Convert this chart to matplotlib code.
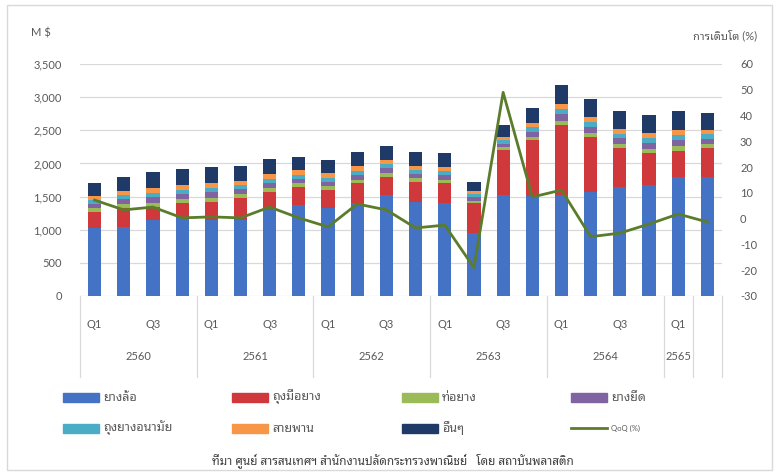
import matplotlib
matplotlib.use('Agg')
import matplotlib.pyplot as plt
from matplotlib import font_manager
from matplotlib.ft2font import FT2Font
from matplotlib.patches import Rectangle
from matplotlib.lines import Line2D
from matplotlib.ticker import FuncFormatter, MultipleLocator
import numpy as np

# ---------------- data ----------------
quarters = ['Q1', 'Q2', 'Q3', 'Q4'] * 5 + ['Q1', 'Q2']
year_labels = ['2560', '2561', '2562', '2563', '2564', '2565', '']
year_sizes = [4, 4, 4, 4, 4, 1, 1]

tires = [1025, 1040, 1150, 1180, 1150, 1150, 1300, 1370, 1330, 1400, 1520, 1420,
         1400, 950, 1520, 1510, 1520, 1570, 1640, 1680, 1790, 1790]
gloves = [245, 290, 195, 220, 270, 330, 270, 275, 270, 300, 280, 300,
          300, 450, 680, 840, 1060, 830, 590, 480, 405, 440]
hoses = [55, 55, 60, 60, 60, 55, 60, 55, 55, 55, 55, 55,
         55, 40, 45, 55, 65, 65, 60, 60, 65, 60]
elastic = [70, 75, 85, 80, 85, 75, 75, 70, 70, 75, 70, 70,
           70, 50, 55, 75, 95, 90, 90, 90, 95, 80]
condoms = [55, 60, 65, 65, 65, 60, 65, 60, 60, 60, 60, 60,
           60, 45, 50, 65, 75, 70, 70, 75, 75, 70]
belts = [60, 65, 75, 70, 75, 65, 70, 65, 65, 65, 65, 60,
         65, 45, 50, 65, 80, 75, 75, 75, 80, 70]
others = [200, 215, 240, 240, 240, 225, 225, 205, 200, 215, 210, 205,
          210, 140, 180, 230, 285, 270, 265, 270, 275, 250]
qoq = [7.2, 3.4, 4.5, 0.3, 0.7, 0.3, 4.5, 0.3, -3.2, 5.7, 3.4, -3.6,
       -2.5, -19.0, 49.0, 8.4, 11.1, -7.0, -5.6, -2.1, 1.8, -1.3]

series_names = ['ยางล้อ', 'ถุงมือยาง', 'ท่อยาง', 'ยางยืด', 'ถุงยางอนามัย', 'สายพาน', 'อื่นๆ']
line_name = 'QoQ (%)'
left_title = 'M $'
right_title = 'การเติบโต (%)'
source_text = 'ที่มา ศูนย์ สารสนเทศฯ สำนักงานปลัดกระทรวงพาณิชย์   โดย สถาบันพลาสติก'

colors = ['#4472C4', '#D0393B', '#9BBB59', '#8064A2', '#4BACC6', '#F79646', '#1F3A66']
line_color = '#5B7D2B'

# ---------------- fonts ----------------
found = []
for f in font_manager.fontManager.ttflist:
    try:
        cm = FT2Font(f.fname).get_charmap()
        if 0x0E01 in cm and 0x0E22 in cm:
            found.append(f.name)
    except Exception:
        pass
found = sorted(set(found))
thai_fam = None
for pref in ['Noto Sans Thai Looped', 'Noto Sans Thai', 'IBM Plex Sans Thai Looped',
             'Sarabun', 'Anuphan']:
    if pref in found:
        thai_fam = pref
        break
if thai_fam is None and found:
    thai_fam = found[0]
plt.rcParams['font.family'] = ['Lato'] + ([thai_fam] if thai_fam else []) + ['DejaVu Sans']
plt.rcParams['axes.unicode_minus'] = False

gray = '#595959'

# ---------------- figure ----------------
W, H = 782, 476
fig = plt.figure(figsize=(W / 100, H / 100), dpi=100)

def fx(px):
    return px / W

def fy(py):
    return 1 - py / H

ax_l, ax_r, ax_t, ax_b = 80, 722, 64, 296
ax = fig.add_axes([fx(ax_l), fy(ax_b), (ax_r - ax_l) / W, (ax_b - ax_t) / H])

x = np.arange(len(quarters))
stack = [tires, gloves, hoses, elastic, condoms, belts, others]
bottom = np.zeros(len(x))
for vals, c, n in zip(stack, colors, series_names):
    ax.bar(x, vals, width=0.45, bottom=bottom, color=c, label=n, zorder=2)
    bottom += np.array(vals)

ax.set_xlim(-0.5, len(x) - 0.5)
ax.set_ylim(0, 3500)
ax.yaxis.set_major_locator(MultipleLocator(500))
ax.yaxis.set_major_formatter(FuncFormatter(lambda v, p: f'{int(v):,}'))
ax.grid(axis='y', color='#D9D9D9', lw=0.9, zorder=0)
ax.set_axisbelow(True)
for s in ax.spines.values():
    s.set_visible(False)
ax.tick_params(axis='y', length=0, pad=13, labelsize=8, labelcolor=gray)
ax.set_xticks([])

ax2 = ax.twinx()
ax2.plot(x, qoq, color=line_color, lw=2, zorder=3)
ax2.set_ylim(-30, 60)
ax2.yaxis.set_major_locator(MultipleLocator(10))
for s in ax2.spines.values():
    s.set_visible(False)
ax2.tick_params(axis='y', length=0, pad=13, labelsize=8, labelcolor=gray)
ax2.set_xticks([])

# category axis (two levels)
trans = ax.get_xaxis_transform()
for i, q in enumerate(quarters):
    if i % 2 == 0:
        ax.text(i, -0.125, q, transform=trans, ha='center', va='center',
                fontsize=8, color=gray, clip_on=False)
edges = [-0.5]
for s in year_sizes:
    edges.append(edges[-1] + s)
for e in edges:
    ax.add_line(Line2D([e, e], [0, -0.35], transform=trans, color='#D9D9D9',
                       lw=0.9, clip_on=False))
for lab, a, b in zip(year_labels, edges[:-1], edges[1:]):
    ax.text((a + b) / 2, -0.262, lab, transform=trans, ha='center', va='center',
            fontsize=8, color=gray, clip_on=False)

# titles
fig.text(fx(31), fy(33), left_title, fontsize=8, color=gray, ha='left', va='center')
fig.text(fx(757), fy(35), right_title, fontsize=8, color=gray, ha='right', va='center')

# legend (manual layout)
col_x = [63, 232, 402, 571]
row_y = [397, 428]
for k, (n, c) in enumerate(zip(series_names, colors)):
    r, cidx = divmod(k, 4)
    px, py = col_x[cidx], row_y[r]
    fig.patches.append(Rectangle((fx(px), fy(py + 4.5)), 36 / W, 9 / H,
                                 transform=fig.transFigure, color=c))
    fig.text(fx(px + 40), fy(py), n, fontsize=9, color=gray, ha='left', va='center')
px, py = col_x[3], row_y[1]
fig.add_artist(Line2D([fx(px), fx(px + 36)], [fy(py), fy(py)],
                      transform=fig.transFigure, color=line_color, lw=2))
fig.text(fx(px + 40), fy(py), line_name, fontsize=5.5, color=gray, ha='left', va='center')

fig.text(fx(393), fy(461), source_text, fontsize=8.5, color='#404040', ha='center', va='center')

# outer border
fig.patches.append(Rectangle((fx(7), fy(470)), (772 - 7) / W, (470 - 5) / H,
                             transform=fig.transFigure, fill=False,
                             edgecolor='#D9D9D9', lw=1))

fig.savefig('out.png', dpi=100)
